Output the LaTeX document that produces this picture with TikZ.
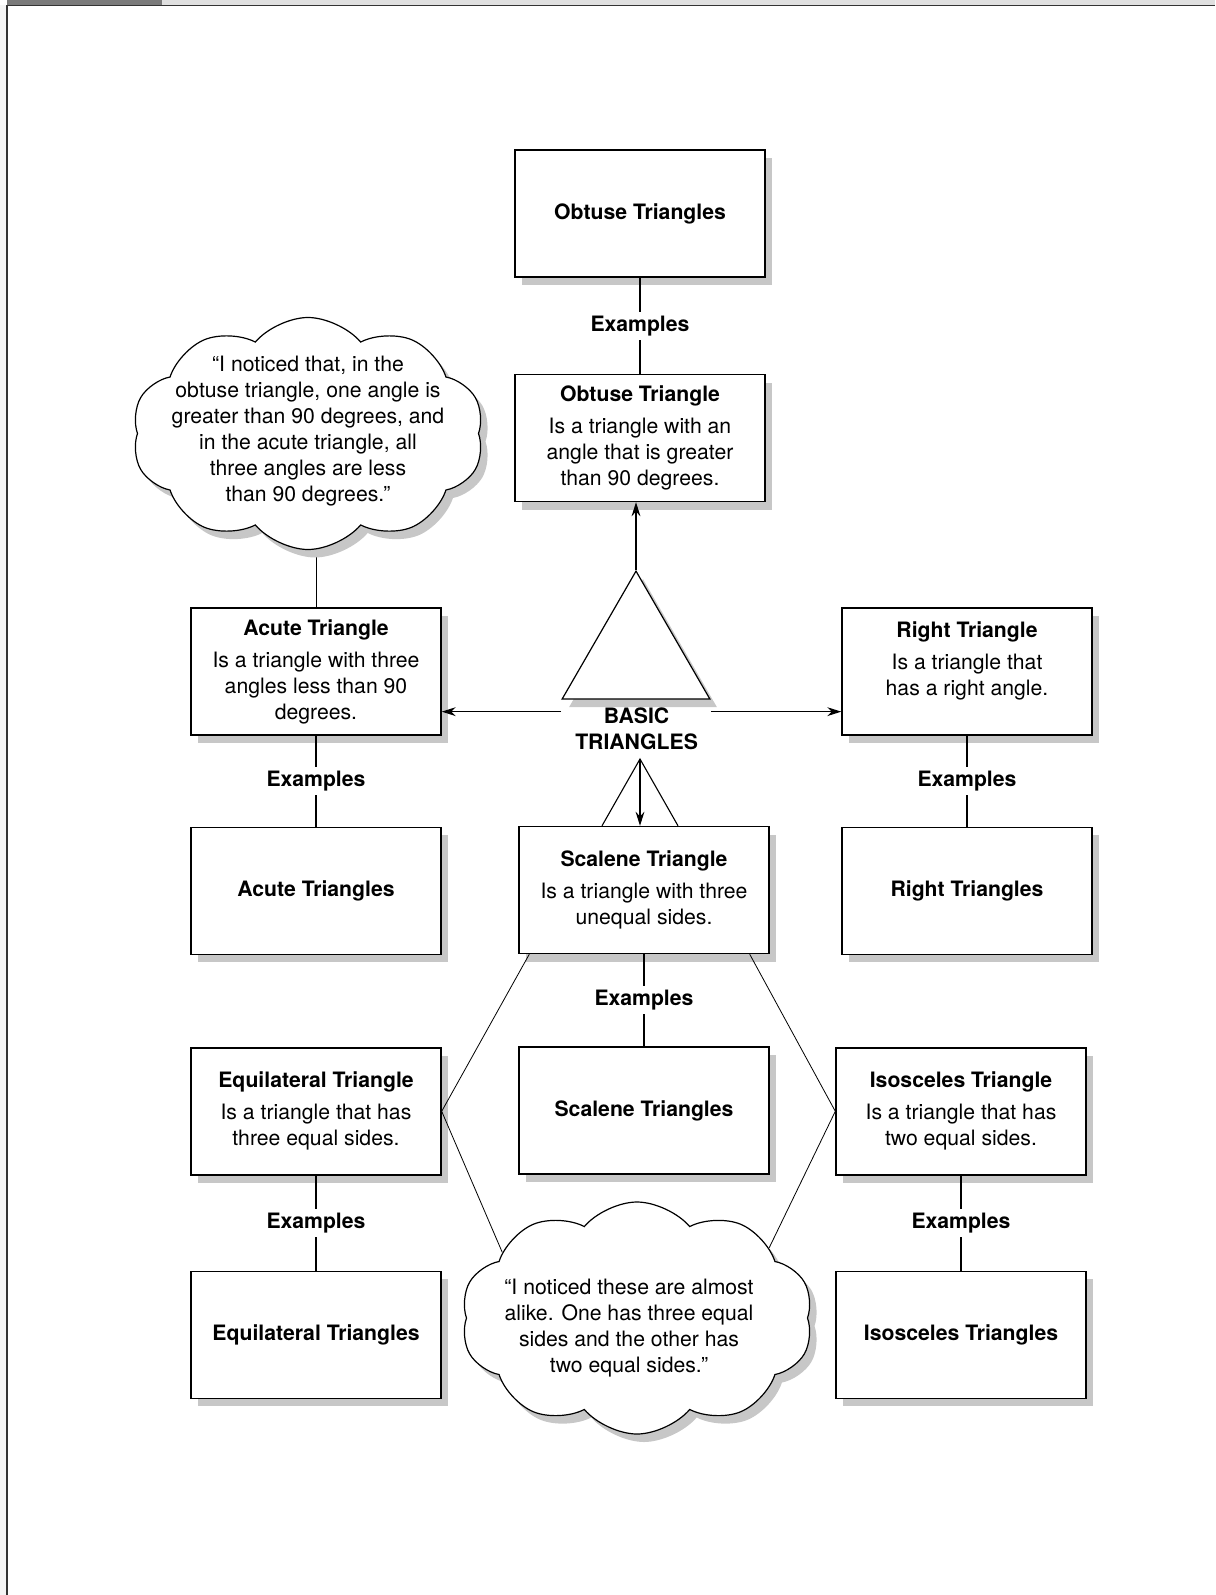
\documentclass[tikz,border=0pt]{standalone}
\usepackage{fontspec}
\setmainfont{TeX Gyre Heros}
\usetikzlibrary{positioning, shapes.geometric, shapes.symbols, shadows, arrows.meta}
\newcommand{\chartfont}{\fontsize{10.6}{13}\selectfont}
\pgfdeclarelayer{back}
\pgfsetlayers{back,main}

\begin{document}
\begin{tikzpicture}[
		boxshadow/.style={drop shadow={shadow xshift=3.5pt, shadow yshift=-4pt, fill=black!22, opacity=1}},
		defbox/.style={draw, line width=0.7pt, fill=white, boxshadow, minimum height=63.5pt, minimum width=125pt, align=center, font=\chartfont},
		exbox/.style={defbox, font=\chartfont\bfseries},
		exlabel/.style={fill=white, inner sep=2pt, font=\chartfont\bfseries},
		note/.style={cloud, cloud puffs=10, cloud puff arc=100, cloud ignores aspect, draw, line width=0.6pt, fill=white, boxshadow, minimum width=176pt, minimum height=116pt, inner sep=0pt},
		notetext/.style={align=center, font=\chartfont},
		tri/.style={regular polygon, regular polygon sides=3, draw, line width=0.6pt, fill=white, boxshadow, minimum size=85.3pt, inner sep=0pt},
		link/.style={-{Stealth[length=7pt, width=4.4pt]}},
		line width=0.55pt
		]
		\useasboundingbox (0,0) rectangle (607.5pt,-797.5pt);
		\fill[black!52] (3.5pt,0) rectangle (81pt,-2.3pt);
		\fill[black!12] (81pt,0) rectangle (607.5pt,-2.3pt);
		\fill[black!4] (0,-2.3pt) rectangle (3.2pt,-797.5pt);
		\draw[line width=0.85pt, black!80] (3.6pt,-797.5pt) -- (3.6pt,-2.7pt) -- (607.5pt,-2.7pt);
		
		\node[defbox] (obtuse) at (320pt,-219pt) {\textbf{Obtuse Triangle}\\[3pt] Is a triangle with an\\ angle that is greater\\ than 90 degrees.};
		\node[exbox, above=48pt of obtuse] (obtusex) {Obtuse Triangles};
		
		\node[defbox] (acute) at (158pt,-335.75pt) {\textbf{Acute Triangle}\\[3pt] Is a triangle with three\\ angles less than 90\\ degrees.};
		\node[exbox, below=45.5pt of acute] (acutex) {Acute Triangles};
		\node[defbox, below=46pt of acutex] (equi) {\textbf{Equilateral Triangle}\\[3pt] Is a triangle that has\\ three equal sides.};
		\node[exbox, below=47.5pt of equi] (equix) {Equilateral Triangles};
		
		\node[defbox] (right) at (483.5pt,-335.75pt) {\textbf{Right Triangle}\\[3pt] Is a triangle that\\ has a right angle.\\ \mbox{}};
		\node[exbox, below=45.5pt of right] (rightx) {Right Triangles};
		\node[defbox, below=46pt of rightx, xshift=-3pt] (isos) {\textbf{Isosceles Triangle}\\[3pt] Is a triangle that has\\ two equal sides.};
		\node[exbox, below=47.5pt of isos] (isosx) {Isosceles Triangles};
		
		\node[defbox] (scal) at (322pt,-445pt) {\textbf{Scalene Triangle}\\[3pt] Is a triangle with three\\ unequal sides.};
		\node[exbox, below=46pt of scal] (scalx) {Scalene Triangles};
		
		\node[tri] (tri) at (318pt,-328.2pt) {};
		\node[font=\chartfont\bfseries, align=center] (basic) at (318.3pt,-364.25pt) {BASIC\\TRIANGLES};
		\coordinate (peak) at (320pt,-379.5pt);
		\coordinate (lfoot) at ([yshift=-6pt]tri.corner 2);
		\coordinate (rfoot) at ([yshift=-6pt]tri.corner 3);
		
		\node[note] (note1) at (154pt,-216.75pt) {};
		\node[notetext] (note1txt) at ([yshift=1pt]note1) {“I noticed that, in the\\ obtuse triangle, one angle is\\ greater than 90 degrees, and\\ in the acute triangle, all\\ three angles are less\\ than 90 degrees.”};
		\node[note] (note2) at (318.5pt,-659pt) {};
		\node[notetext] (note2txt) at ([xshift=-4pt, yshift=-5pt]note2) {“I noticed these are almost\\ alike. One has three equal\\ sides and the other has\\ two equal sides.”};
		
		\draw[link] (tri.corner 1) -- (tri.corner 1 |- obtuse.south);
		\draw[link] (lfoot) -- (lfoot -| acute.east);
		\draw[link] (rfoot) -- (rfoot -| right.west);
		\draw ([xshift=-21pt]scal.north) -- (peak) -- ([xshift=17pt]scal.north);
		\draw[link] (peak) -- (peak |- scal.north);
		
		\foreach \a/\b in {obtusex/obtuse, acute/acutex, right/rightx, scal/scalx, equi/equix, isos/isosx}{
			\draw (\a) -- node[exlabel] {Examples} (\b);
		}
		\begin{pgfonlayer}{back}
			\draw (note1 -| acute.north) -- (acute.north);
		\end{pgfonlayer}
		\draw ([xshift=5.5pt]scal.south west) -- (equi.east) -- (note2.154);
		\draw ([xshift=-10pt]scal.south east) -- (isos.west) -- (note2.28);
	\end{tikzpicture}
\end{document}
